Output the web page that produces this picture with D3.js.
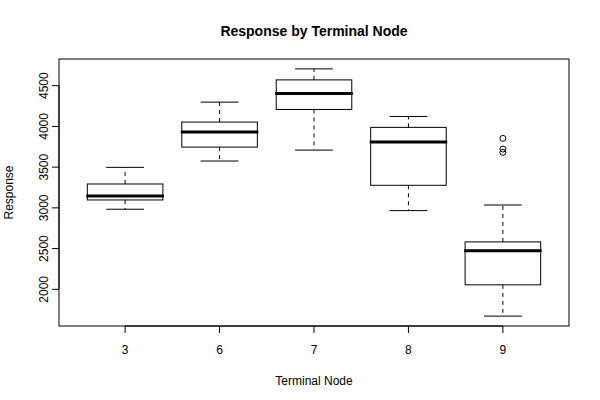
<!DOCTYPE html>
<html>
<head>
<meta charset="utf-8">
<script src="https://cdn.jsdelivr.net/npm/d3@7"></script>
<style>
  html, body { margin: 0; padding: 0; background: #fff; }
  svg { display: block; }
  text { font-family: "Liberation Sans", Arial, Helvetica, sans-serif; fill: #000; }
</style>
</head>
<body>
<svg id="chart" width="600" height="400"></svg>
<script>
// ---- data ----
const categories = ["3", "6", "7", "8", "9"];
const whiskerLow  = [2977, 3569, 3703, 2960, 1665];
const q1          = [3091, 3740, 4202, 3271, 2049];
const medians     = [3140, 3924, 4398, 3801, 2466];
const q3          = [3287, 4047, 4565, 3982, 2576];
const whiskerHigh = [3491, 4292, 4700, 4116, 3029];
const outliers    = [[], [], [], [], [3847, 3716, 3675]];
const yTicks      = [2000, 2500, 3000, 3500, 4000, 4500];
const chartTitle = "Response by Terminal Node";
const xTitle = "Terminal Node";
const yTitle = "Response";

const svg = d3.select("#chart");
const pLeft = 59, pRight = 569, pTop = 59, pBottom = 326;

const x = d3.scaleBand().domain(categories).range([pLeft, pRight])
  .paddingInner(0.2).paddingOuter(0.3);
const yMin = 1665, yMax = 4700, ext = (yMax - yMin) * 0.04;
const y = d3.scaleLinear().domain([yMin - ext, yMax + ext]).range([pBottom, pTop]);

// frame
svg.append("rect").attr("x", pLeft).attr("y", pTop)
  .attr("width", pRight - pLeft).attr("height", pBottom - pTop)
  .attr("fill", "none").attr("stroke", "#000").attr("stroke-width", 1);

// boxes
const data = categories.map((c, i) => ({
  c, lo: whiskerLow[i], q1: q1[i], med: medians[i], q3: q3[i], hi: whiskerHigh[i], out: outliers[i]
}));
const bw = x.bandwidth();
const g = svg.append("g");
data.forEach(d => {
  const cx = x(d.c) + bw / 2;
  const gg = g.append("g");
  gg.append("line").attr("x1", cx).attr("x2", cx).attr("y1", y(d.q3)).attr("y2", y(d.hi))
    .attr("stroke", "#000").attr("stroke-dasharray", "4,4");
  gg.append("line").attr("x1", cx).attr("x2", cx).attr("y1", y(d.q1)).attr("y2", y(d.lo))
    .attr("stroke", "#000").attr("stroke-dasharray", "4,4");
  [d.lo, d.hi].forEach(v => {
    gg.append("line").attr("x1", cx - bw / 4).attr("x2", cx + bw / 4)
      .attr("y1", y(v)).attr("y2", y(v)).attr("stroke", "#000");
  });
  gg.append("rect").attr("x", x(d.c)).attr("y", y(d.q3))
    .attr("width", bw).attr("height", y(d.q1) - y(d.q3))
    .attr("fill", "none").attr("stroke", "#000");
  gg.append("line").attr("x1", x(d.c) - 1).attr("x2", x(d.c) + bw + 1)
    .attr("y1", y(d.med)).attr("y2", y(d.med))
    .attr("stroke", "#000").attr("stroke-width", 3);
  d.out.forEach(v => {
    gg.append("circle").attr("cx", cx).attr("cy", y(v)).attr("r", 3)
      .attr("fill", "none").attr("stroke", "#000");
  });
});

// y axis
const yAxis = svg.append("g").attr("transform", `translate(${pLeft},0)`)
  .call(d3.axisLeft(y).tickValues(yTicks).tickSize(7).tickFormat(d3.format("d")));
yAxis.select(".domain").remove();
yAxis.append("line").attr("x1", 0).attr("x2", 0)
  .attr("y1", y(yTicks[0])).attr("y2", y(yTicks[yTicks.length - 1])).attr("stroke", "#000");
yAxis.selectAll(".tick line").attr("stroke", "#000");
yAxis.selectAll(".tick text")
  .attr("x", null).attr("dy", null)
  .attr("transform", "translate(-11.5,0) rotate(-90)")
  .attr("text-anchor", "middle")
  .style("font-size", "12px").style("font-family", "'Liberation Sans', Arial, sans-serif");

// x axis
const xAxis = svg.append("g").attr("transform", `translate(0,${pBottom})`)
  .call(d3.axisBottom(x).tickSize(7));
xAxis.select(".domain").remove();
xAxis.append("line")
  .attr("x1", x(categories[0]) + bw / 2).attr("x2", x(categories[categories.length - 1]) + bw / 2)
  .attr("y1", 0).attr("y2", 0).attr("stroke", "#000");
xAxis.selectAll(".tick line").attr("stroke", "#000");
xAxis.selectAll(".tick text").attr("y", 28).attr("dy", null)
  .style("font-size", "12px").style("font-family", "'Liberation Sans', Arial, sans-serif");

// titles
svg.append("text").attr("x", (pLeft + pRight) / 2).attr("y", 36)
  .attr("text-anchor", "middle").style("font-size", "14px").style("font-weight", "bold")
  .text(chartTitle);
svg.append("text").attr("x", (pLeft + pRight) / 2).attr("y", 385)
  .attr("text-anchor", "middle").style("font-size", "12px").text(xTitle);
svg.append("text").attr("transform", `translate(13,${(pTop + pBottom) / 2}) rotate(-90)`)
  .attr("text-anchor", "middle").style("font-size", "12px").text(yTitle);
</script>
</body>
</html>
